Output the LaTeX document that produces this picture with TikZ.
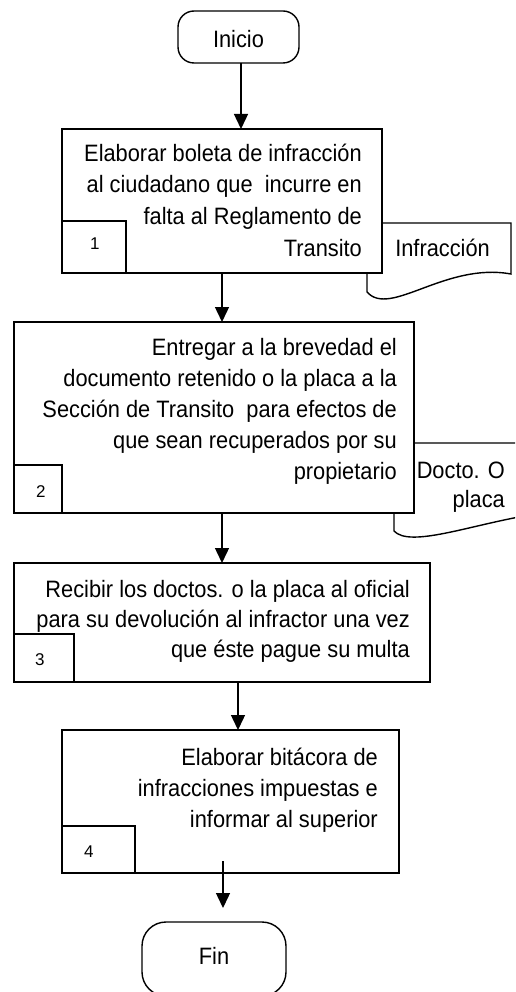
\documentclass[tikz,border=0pt]{standalone}
\usepackage{fontspec}
\setmainfont[FakeStretch=0.92]{Liberation Sans}
\newfontfamily\numfont{Liberation Sans}
\usetikzlibrary{arrows.meta}
\newcommand\maintext{\fontsize{23.7}{31}\selectfont}
\newcommand\numtext{\numfont\fontsize{17}{20}\selectfont}
\begin{document}
\begin{tikzpicture}[x=1pt,y=-1pt,
  box/.style={draw, line width=2pt, fill=white, rectangle, inner sep=0pt, outer sep=0pt},
  term/.style={draw, line width=1.4pt, fill=white, rectangle, inner sep=0pt, outer sep=0pt, font=\maintext},
  ln/.style={anchor=base east, inner sep=0pt, font=\maintext},
  num/.style={anchor=base west, inner sep=0pt, font=\numtext},
  arr/.style={line width=1.4pt, -{Triangle[length=15pt,width=14pt]}},
  doc/.style={draw, line width=1.4pt, fill=white}
]
\useasboundingbox (0,0) rectangle (515,992);
\clip (0,0) rectangle (515,992);

% document shapes
\draw[doc] (367,223) -- (511,223) -- (511,274) .. controls (445,262) and (390,318) .. (367,292) -- cycle;
\draw[doc] (394,443) -- (530,443) -- (530,515) .. controls (470,525) and (410,548) .. (394,531) -- cycle;

% terminals
\node[term, rounded corners=16pt, minimum width=121pt, minimum height=52pt, text height=22pt, text depth=0pt] (inicio) at (238.5,37) {Inicio};
\node[term, rounded corners=24pt, minimum width=144pt, minimum height=74pt, text depth=6pt] (fin) at (214,959) {Fin};

% process boxes
\node[box, minimum width=320pt, minimum height=144pt] (b1) at (222,201) {};
\node[box, minimum width=400pt, minimum height=191pt] (b2) at (214,417.5) {};
\node[box, minimum width=416pt, minimum height=119pt] (b3) at (222,622.5) {};
\node[box, minimum width=337pt, minimum height=143pt] (b4) at (230.5,801.5) {};

% number boxes
\node[box, minimum width=64pt, minimum height=52pt] (n1) at (94,247) {};
\node[box, minimum width=48pt, minimum height=48pt] (n2) at (38,489) {};
\node[box, minimum width=60pt, minimum height=48pt] (n3) at (44,658) {};
\node[box, minimum width=73pt, minimum height=47pt] (n4) at (98.5,849.5) {};
\node[num] (l1) at (90,250) {1};
\node[num] (l2) at (36,497) {2};
\node[num] (l3) at (35,665) {3};
\node[num] (l4) at (84,857) {4};

% box texts
\node[ln] (t1a) at (362,162) {Elaborar boleta de infracción};
\node[ln] (t1b) at (362,193) {al ciudadano que\ \ incurre en};
\node[ln] (t1c) at (362,225) {falta al Reglamento de};
\node[ln] (t1d) at (362,256) {Transito};

\node[ln] (t2a) at (397,355) {Entregar a la brevedad el};
\node[ln] (t2b) at (397,386) {documento retenido o la placa a la};
\node[ln] (t2c) at (397,417) {Sección de Transito\ \ para efectos de};
\node[ln] (t2d) at (397,448) {que sean recuperados por su};
\node[ln] (t2e) at (397,479) {propietario};

\node[ln] (t3a) at (410,597) {Recibir los doctos. o la placa al oficial};
\node[ln] (t3b) at (410,627) {para su devolución al infractor una vez};
\node[ln] (t3c) at (410,657) {que éste pague su multa};

\node[ln] (t4a) at (378,765) {Elaborar bitácora de};
\node[ln] (t4b) at (378,796) {infracciones impuestas e};
\node[ln] (t4c) at (378,827) {informar al superior};

% document texts
\node[ln] (inf) at (490,256) {Infracción};
\node[ln] (dt1) at (505,478) {Docto. O};
\node[ln] (dt2) at (505,507) {placa};

% connectors
\coordinate (x1) at (241,0);
\coordinate (x2) at (222,0);
\coordinate (x3) at (238,0);
\coordinate (s4) at (223,861);
\draw[arr] (inicio.south -| x1) -- (b1.north -| x1);
\draw[arr] (b1.south -| x2) -- (b2.north -| x2);
\draw[arr] (b2.south -| x2) -- (b3.north -| x2);
\draw[arr] (b3.south -| x3) -- (b4.north -| x3);
\draw[arr, shorten >=14pt] (s4) -- (fin.north -| s4);
\end{tikzpicture}
\end{document}
